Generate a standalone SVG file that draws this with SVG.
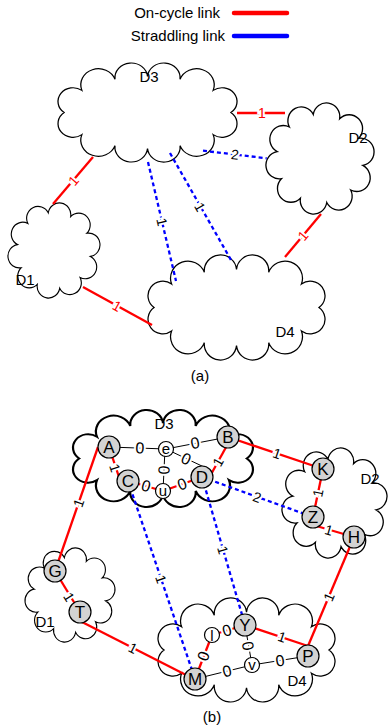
<svg xmlns="http://www.w3.org/2000/svg" xmlns:xlink="http://www.w3.org/1999/xlink" width="388" height="727" viewBox="0 0 388 727">
<style>
.cloud{fill:#fff;stroke:#000;stroke-width:1.1}
.thick{stroke-width:1.9}
.red{stroke:#f00;stroke-width:2.3;fill:none}
.blue{stroke:#00f;stroke-width:2.3;stroke-dasharray:4 3;fill:none}
.thin{stroke:#000;stroke-width:1;fill:none}
.lbl{font-family:"Liberation Sans",Arial,sans-serif;font-size:14px;text-anchor:middle;dominant-baseline:central;stroke:#fff;stroke-width:4;paint-order:stroke;fill:#000}
.zero{font-size:16px}
.lr{fill:#f00}
.nd{fill:#d3d3d3;stroke:#000;stroke-width:1.2}
.nw{fill:#fff;stroke:#000;stroke-width:1.2}
.nt{font-family:"Liberation Sans",Arial,sans-serif;font-size:17px;text-anchor:middle;dominant-baseline:central;fill:#000}
.ntw{font-size:15px}
.dl{font-family:"Liberation Sans",Arial,sans-serif;font-size:15px;text-anchor:middle;fill:#000}
.leg{font-family:"Liberation Sans",Arial,sans-serif;font-size:15px;text-anchor:end;fill:#000}
</style>
<defs>
<path id="wide" d="M162,50 A12,12 0 0 1 146.7,70.9 A12,12 0 0 1 118.1,81.3 A12,12 0 0 1 90,84 A12,12 0 0 1 61.9,81.3 A12,12 0 0 1 33.3,70.9 A12,12 0 0 1 18,50 A12,12 0 0 1 33.3,29.1 A12,12 0 0 1 61.9,18.7 A12,12 0 0 1 90,16 A12,12 0 0 1 118.1,18.7 A12,12 0 0 1 146.7,29.1 A12,12 0 0 1 162,50 Z"/>
<path id="round" d="M85.6,55.6 A10,10 0 0 1 75.5,75.5 A10,10 0 0 1 55.6,85.6 A10,10 0 0 1 33.7,82.1 A10,10 0 0 1 17.9,66.3 A10,10 0 0 1 14.4,44.4 A10,10 0 0 1 24.5,24.5 A10,10 0 0 1 44.4,14.4 A10,10 0 0 1 66.3,17.9 A10,10 0 0 1 82.1,33.7 A10,10 0 0 1 85.6,55.6 Z"/>
</defs>

<g id="legend">
<text class="leg" x="220" y="18">On-cycle link</text>
<line x1="234" y1="13" x2="287" y2="13" stroke="#f00" stroke-width="4.5" stroke-linecap="round"/>
<text class="leg" x="225" y="41">Straddling link</text>
<line x1="234" y1="36" x2="287" y2="36" stroke="#00f" stroke-width="4.5" stroke-linecap="round"/>
</g>

<!-- Part (a) -->
<g id="a-D3"><use xlink:href="#wide" class="cloud" transform="translate(43.3,59.56) scale(1.158,1.059)"/><text class="dl" x="149" y="82">D3</text></g>
<g id="a-D2"><use xlink:href="#round" class="cloud" transform="translate(259.87,96.7) scale(1.203,1.236)"/><text class="dl" x="358" y="143">D2</text></g>
<g id="a-D1"><use xlink:href="#round" class="cloud" transform="translate(2.78,197.6) scale(1.024,1.058)"/><text class="dl" x="25" y="285">D1</text></g>
<g id="a-D4"><use xlink:href="#wide" class="cloud" transform="translate(133.46,251.35) scale(1.145,1.123)"/><text class="dl" x="285" y="337">D4</text></g>
<text class="dl" x="200" y="381">(a)</text>

<g id="a-links">
<line class="red" x1="237" y1="113" x2="285" y2="113"/>
<text class="lbl lr" x="262" y="113">1</text>
<line class="blue" x1="203" y1="150.7" x2="266.7" y2="158.3"/>
<text class="lbl" x="235" y="154.5" transform="rotate(6.8 235 154.5)">2</text>
<line class="red" x1="93" y1="157" x2="53" y2="204"/>
<text class="lbl lr" x="73.5" y="180.5" transform="rotate(-49.6 73.5 180.5)">1</text>
<line class="blue" x1="148" y1="162" x2="176" y2="281"/>
<text class="lbl" x="162" y="222" transform="rotate(76.8 162 222)">1</text>
<line class="blue" x1="170" y1="153" x2="231" y2="260"/>
<text class="lbl" x="200" y="207" transform="rotate(60.3 200 207)">1</text>
<line class="red" x1="321" y1="214" x2="285" y2="257"/>
<text class="lbl lr" x="303" y="235.5" transform="rotate(-50 303 235.5)">1</text>
<line class="red" x1="83" y1="287" x2="152" y2="325"/>
<text class="lbl lr" x="117" y="306" transform="rotate(28.8 117 306)">1</text>
</g>

<!-- Part (b) -->
<g id="b-D3"><use xlink:href="#wide" class="cloud thick" transform="translate(58.22,406.63) scale(1.164,1.037)"/><text class="dl" x="164" y="429">D3</text></g>
<g id="b-D2"><use xlink:href="#round" class="cloud" transform="translate(276.04,441.75) scale(1.169,1.225)"/><text class="dl" x="370" y="484">D2</text></g>
<g id="b-D1"><use xlink:href="#round" class="cloud" transform="translate(19.89,542.66) scale(1.002,1.047)"/><text class="dl" x="45" y="627">D1</text></g>
<g id="b-D4"><use xlink:href="#wide" class="cloud" transform="translate(143.46,594.39) scale(1.145,1.112)"/><text class="dl" x="297" y="686">D4</text></g>
<text class="dl" x="212" y="722">(b)</text>

<g id="b-links">
<line class="thin" x1="109" y1="447" x2="166" y2="449"/>
<line class="thin" x1="166" y1="449" x2="228" y2="437"/>
<line class="thin" x1="166" y1="449" x2="204" y2="467"/>
<line class="thin" x1="165" y1="449" x2="163" y2="491"/>
<line class="thin" x1="245" y1="625" x2="252" y2="665"/>
<line class="thin" x1="195" y1="679" x2="252" y2="665"/>
<line class="thin" x1="252" y1="665" x2="308" y2="656"/>

<line class="blue" x1="202" y1="477" x2="313" y2="517"/>
<line class="blue" x1="128" y1="481" x2="195" y2="679"/>
<line class="blue" x1="202" y1="477" x2="245" y2="625"/>

<line class="red" x1="109" y1="447" x2="121" y2="483"/>
<line class="red" x1="128" y1="481" x2="163" y2="491"/>
<line class="red" x1="163" y1="491" x2="202" y2="477"/>
<line class="red" x1="230" y1="440" x2="209" y2="478"/>
<line class="red" x1="228" y1="437" x2="323" y2="469"/>
<line class="red" x1="323" y1="469" x2="313" y2="517"/>
<line class="red" x1="313" y1="525" x2="354" y2="537"/>
<line class="red" x1="354" y1="537" x2="308" y2="646"/>
<line class="red" x1="245" y1="625" x2="308" y2="646"/>
<line class="red" x1="212" y1="635" x2="245" y2="625"/>
<line class="red" x1="195" y1="679" x2="212" y2="635"/>
<line class="red" x1="98" y1="447" x2="55" y2="571"/>
<line class="red" x1="55" y1="571" x2="80" y2="612"/>
<line class="red" x1="82" y1="622" x2="190" y2="677"/>

<text class="lbl zero" x="140" y="448" transform="rotate(2 140 448)">0</text>
<text class="lbl zero" x="195" y="443" transform="rotate(-11 195 443)">0</text>
<text class="lbl zero" x="186" y="459" transform="rotate(25 186 459)">0</text>
<text class="lbl zero" x="164" y="470" transform="rotate(-87 164 470)">0</text>
<text class="lbl zero" x="248" y="646" transform="rotate(80 248 646)">0</text>
<text class="lbl zero" x="227" y="671" transform="rotate(-13.8 227 671)">0</text>
<text class="lbl zero" x="280" y="660.5" transform="rotate(-9 280 660.5)">0</text>
<text class="lbl zero" x="146" y="486" transform="rotate(16 146 486)">0</text>
<text class="lbl zero" x="182" y="484" transform="rotate(-19.7 182 484)">0</text>
<text class="lbl zero" x="227" y="630.5" transform="rotate(-16.9 227 630.5)">0</text>
<text class="lbl zero" x="203.5" y="656" transform="rotate(-68.9 203.5 656)">0</text>

<text class="lbl" x="257" y="497" transform="rotate(19.8 257 497)">2</text>
<text class="lbl" x="161" y="579" transform="rotate(71.3 161 579)">1</text>
<text class="lbl" x="223" y="550" transform="rotate(73.8 223 550)">1</text>

<text class="lbl" x="115" y="468" transform="rotate(71.6 115 468)">1</text>
<text class="lbl" x="218" y="462" transform="rotate(-61 218 462)">1</text>
<text class="lbl" x="277" y="453.5" transform="rotate(18.6 277 453.5)">1</text>
<text class="lbl" x="318" y="493" transform="rotate(-78.2 318 493)">1</text>
<text class="lbl" x="329" y="530" transform="rotate(16.3 329 530)">1</text>
<text class="lbl" x="329" y="597" transform="rotate(-67 329 597)">1</text>
<text class="lbl" x="282" y="637" transform="rotate(18.4 282 637)">1</text>
<text class="lbl" x="78.5" y="503" transform="rotate(-70.9 78.5 503)">1</text>
<text class="lbl" x="69" y="597" transform="rotate(58.6 69 597)">1</text>
<text class="lbl" x="133" y="648" transform="rotate(27 133 648)">1</text>
</g>

<g id="node-A"><circle class="nd" cx="109" cy="447" r="11"/><text class="nt" x="109" y="447">A</text></g>
<g id="node-B"><circle class="nd" cx="228" cy="437" r="11"/><text class="nt" x="228" y="437">B</text></g>
<g id="node-C"><circle class="nd" cx="128" cy="481" r="11"/><text class="nt" x="128" y="481">C</text></g>
<g id="node-D"><circle class="nd" cx="202" cy="477" r="11"/><text class="nt" x="202" y="477">D</text></g>
<g id="node-e"><circle class="nw" cx="166" cy="449" r="7.5"/><text class="nt ntw" x="166" y="448">e</text></g>
<g id="node-u"><circle class="nw" cx="163" cy="491" r="7.5"/><text class="nt ntw" x="163" y="490">u</text></g>
<g id="node-K"><circle class="nd" cx="323" cy="469" r="11"/><text class="nt" x="323" y="469">K</text></g>
<g id="node-Z"><circle class="nd" cx="313" cy="517" r="11"/><text class="nt" x="313" y="517">Z</text></g>
<g id="node-H"><circle class="nd" cx="354" cy="537" r="11"/><text class="nt" x="354" y="537">H</text></g>
<g id="node-G"><circle class="nd" cx="55" cy="571" r="11"/><text class="nt" x="55" y="571">G</text></g>
<g id="node-T"><circle class="nd" cx="80" cy="612" r="11"/><text class="nt" x="80" y="612">T</text></g>
<g id="node-M"><circle class="nd" cx="195" cy="679" r="11"/><text class="nt" x="195" y="679">M</text></g>
<g id="node-Y"><circle class="nd" cx="245" cy="625" r="11"/><text class="nt" x="245" y="625">Y</text></g>
<g id="node-P"><circle class="nd" cx="308" cy="656" r="11"/><text class="nt" x="308" y="656">P</text></g>
<g id="node-l"><circle class="nw" cx="212" cy="635" r="7.5"/><text class="nt ntw" x="212" y="635">l</text></g>
<g id="node-v"><circle class="nw" cx="252" cy="665" r="7.5"/><text class="nt ntw" x="252" y="664">v</text></g>
</svg>
